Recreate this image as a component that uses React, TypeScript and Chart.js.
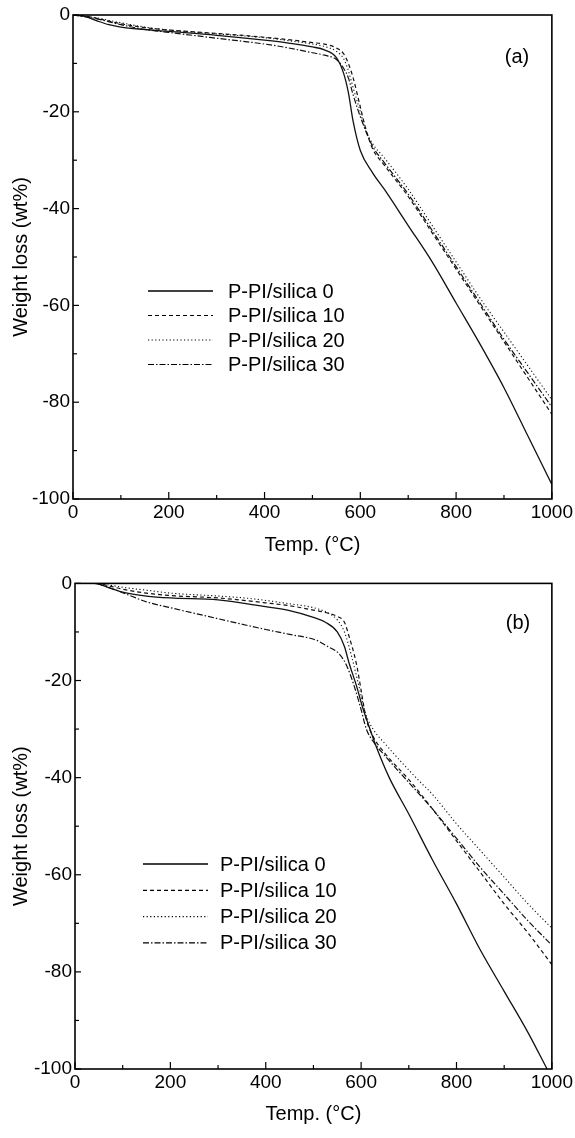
import React, { useEffect, useRef } from "react";
import { Chart, registerables } from "chart.js";
Chart.register(...registerables);

const seriesLabels = ["P-PI/silica 0", "P-PI/silica 10", "P-PI/silica 20", "P-PI/silica 30"];
const xTickValues = [0, 200, 400, 600, 800, 1000];
const yTickValues = [0, -20, -40, -60, -80, -100];
const xTitle = "Temp. (°C)";
const yTitle = "Weight loss (wt%)";
const panelNames = ["(a)", "(b)"];

// ---- Panel (a) ----
const a0Temp = [0, 25, 50, 75, 100, 150, 200, 300, 400, 450, 500, 525, 550, 565, 575, 585, 600, 625, 650, 700, 750, 800, 850, 900, 950, 1000];
const a0Loss = [0, -0.3, -1.2, -2.0, -2.5, -3.0, -3.4, -4.2, -5.2, -5.8, -6.6, -7.2, -8.8, -12, -16, -22, -28, -32.5, -36, -43.5, -51, -59.5, -68, -77, -87, -97];
const a10Temp = [0, 25, 50, 100, 150, 200, 300, 400, 450, 500, 525, 550, 565, 575, 585, 600, 610, 625, 650, 700, 750, 800, 850, 900, 950, 1000];
const a10Loss = [0, -0.2, -0.7, -1.8, -2.6, -3.1, -3.8, -4.6, -5.1, -5.7, -6.0, -6.8, -8, -10, -13, -19, -23, -27.5, -31, -37.5, -45, -52.5, -60, -67.5, -75, -82.5];
const a20Temp = [0, 50, 100, 150, 200, 300, 400, 450, 500, 525, 550, 565, 575, 585, 600, 610, 625, 650, 700, 750, 800, 850, 900, 950, 1000];
const a20Loss = [0, -0.6, -1.6, -2.5, -3.1, -3.9, -4.7, -5.3, -6.0, -6.5, -7.5, -9, -11.5, -15, -20, -23.5, -26.5, -29.5, -36, -43.5, -51, -58.5, -65.5, -72.5, -79.5];
const a30Temp = [0, 50, 100, 150, 200, 300, 400, 450, 500, 525, 550, 565, 575, 585, 600, 625, 650, 700, 750, 800, 850, 900, 950, 1000];
const a30Loss = [0, -0.8, -2.0, -3.0, -3.6, -4.8, -6.0, -6.8, -7.8, -8.3, -9.2, -11, -13, -16.5, -21, -27, -30.5, -37, -44.5, -52, -59.5, -67, -74, -81];

// ---- Panel (b) ----
const b0Temp = [0, 40, 75, 100, 150, 200, 300, 400, 450, 500, 525, 550, 565, 575, 590, 603, 615, 632, 659, 700, 750, 800, 850, 900, 950, 990];
const b0Loss = [0, 0, -1.0, -1.8, -2.6, -3.0, -3.4, -4.8, -5.6, -7.0, -8.0, -10, -13, -16.5, -21, -25.5, -29, -33.7, -40, -47.5, -57, -66, -75.5, -84, -92.5, -100];
const b10Temp = [0, 40, 75, 100, 150, 200, 300, 400, 450, 500, 525, 550, 565, 575, 590, 600, 611, 625, 650, 701, 750, 800, 850, 900, 950, 1000];
const b10Loss = [0, 0, -0.6, -1.2, -2.0, -2.5, -3.0, -4.0, -4.6, -5.5, -6.0, -6.8, -8, -11, -16.5, -22, -28, -31.5, -35, -40.5, -46.5, -53, -59.5, -66, -72, -78.5];
const b20Temp = [0, 40, 75, 100, 150, 200, 300, 366, 450, 500, 533, 550, 565, 580, 595, 610, 625, 650, 715, 750, 800, 850, 900, 950, 1000];
const b20Loss = [0, 0, -0.4, -0.8, -1.4, -2.0, -2.6, -3.1, -4.2, -5.0, -6.2, -7.5, -10, -15, -21, -27, -30, -33, -40, -43.5, -49.5, -55, -60.5, -66, -71];
const b30Temp = [0, 40, 75, 115, 150, 200, 297, 400, 450, 506, 530, 554, 570, 585, 600, 611, 625, 650, 700, 750, 800, 850, 900, 950, 1000];
const b30Loss = [0, 0, -1.0, -2.5, -3.8, -5.0, -7.2, -9.5, -10.5, -11.7, -13, -14.5, -17, -21, -26, -30, -32.5, -35.5, -41, -46.5, -52.5, -58.5, -64, -69.5, -74.5];

const panelA = [[a0Temp, a0Loss], [a10Temp, a10Loss], [a20Temp, a20Loss], [a30Temp, a30Loss]];
const panelB = [[b0Temp, b0Loss], [b10Temp, b10Loss], [b20Temp, b20Loss], [b30Temp, b30Loss]];

const DASHES = [[], [4, 3], [1.2, 2.4], [6, 2, 1.5, 2]];
const WIDTHS = [1.3, 1.2, 1.1, 1.2];
const FONT = "'Liberation Sans', Arial, sans-serif";
const TICK_SIZE = 19;
const TEXT_SIZE = 20;

type Layout = {
  left: number; right: number; top: number; bottom: number;
  legendX0: number; legendX1: number; legendTextX: number; legendY: number; legendStep: number;
  labelX: number; labelY: number;
};

function makePlugin(panelLabel: string, L: Layout) {
  return {
    id: "decor",
    afterDraw(chart: any) {
      const { ctx, chartArea, scales } = chart;
      const { left, right, top, bottom } = chartArea;
      const xs = scales.x, ys = scales.y;
      ctx.save();
      ctx.strokeStyle = "#000";
      ctx.lineWidth = 1.6;
      ctx.setLineDash([]);
      ctx.strokeRect(left, top, right - left, bottom - top);
      ctx.lineWidth = 1.2;
      for (let v = -100; v <= 0; v += 10) {
        const py = ys.getPixelForValue(v);
        const len = v % 20 === 0 ? 6 : 4;
        ctx.beginPath(); ctx.moveTo(left, py); ctx.lineTo(left + len, py); ctx.stroke();
      }
      for (let v = 0; v <= 1000; v += 100) {
        const px = xs.getPixelForValue(v);
        const len = v % 200 === 0 ? 7 : 4;
        ctx.beginPath(); ctx.moveTo(px, bottom); ctx.lineTo(px, bottom - len); ctx.stroke();
      }
      // legend
      ctx.font = `${TEXT_SIZE}px ${FONT}`;
      ctx.fillStyle = "#000";
      ctx.textBaseline = "middle";
      ctx.textAlign = "left";
      seriesLabels.forEach((lab, i) => {
        const y = L.legendY + i * L.legendStep;
        ctx.lineWidth = WIDTHS[i];
        ctx.setLineDash(DASHES[i]);
        ctx.beginPath(); ctx.moveTo(L.legendX0, y); ctx.lineTo(L.legendX1, y); ctx.stroke();
        ctx.setLineDash([]);
        ctx.fillText(lab, L.legendTextX, y + 1);
      });
      ctx.textAlign = "center";
      ctx.fillText(panelLabel, L.labelX, L.labelY);
      ctx.restore();
    },
  };
}

function Panel({ data, label, L }: { data: number[][][]; label: string; L: Layout }) {
  const ref = useRef<HTMLCanvasElement>(null);
  useEffect(() => {
    if (!ref.current) return;
    const datasets = data.map(([t, w], i) => ({
      label: seriesLabels[i],
      data: t.map((tv, j) => ({ x: tv, y: w[j] })),
      showLine: true,
      borderColor: "#111",
      borderWidth: WIDTHS[i],
      borderDash: DASHES[i],
      pointRadius: 0,
      fill: false,
      cubicInterpolationMode: "monotone" as const,
    }));
    const tickFont = { family: FONT, size: TICK_SIZE };
    const titleFont = { family: FONT, size: TEXT_SIZE };
    const padBottom = 12;
    const padLeft = 9;
    const chart = new Chart(ref.current, {
      type: "scatter",
      data: { datasets },
      options: {
        animation: false,
        responsive: false,
        layout: { padding: { left: padLeft, right: 575 - L.right, top: L.top, bottom: padBottom } },
        plugins: { legend: { display: false }, tooltip: { enabled: false } },
        scales: {
          x: {
            type: "linear", min: 0, max: 1000,
            afterBuildTicks: (s: any) => { s.ticks = xTickValues.map((v) => ({ value: v })); },
            ticks: { font: tickFont, color: "#000", padding: 2, maxRotation: 0, callback: (v: any) => String(v) },
            grid: { display: false, drawTicks: false },
            border: { display: false },
            title: { display: true, text: xTitle, font: titleFont, color: "#000", padding: { top: 8, bottom: 0 } },
            afterFit: (s: any) => { s.height = 569 - padBottom - L.bottom; },
          },
          y: {
            type: "linear", min: -100, max: 0,
            afterBuildTicks: (s: any) => { s.ticks = yTickValues.map((v) => ({ value: v })); },
            ticks: { font: tickFont, color: "#000", padding: 3, callback: (v: any) => String(v) },
            grid: { display: false, drawTicks: false },
            border: { display: false },
            title: { display: true, text: yTitle, font: titleFont, color: "#000", padding: 0 },
            afterFit: (s: any) => { s.width = L.left - padLeft; },
          },
        },
      },
      plugins: [makePlugin(label, L)],
    });
    return () => chart.destroy();
  }, []);
  return <canvas ref={ref} width={575} height={569} style={{ display: "block", width: 575, height: 569 }} />;
}

const layoutA: Layout = { left: 73, right: 553, top: 15, bottom: 499, legendX0: 148, legendX1: 213, legendTextX: 228, legendY: 291, legendStep: 24.5, labelX: 517, labelY: 57 };
const layoutB: Layout = { left: 75, right: 553, top: 14, bottom: 500, legendX0: 143, legendX1: 208, legendTextX: 220, legendY: 295, legendStep: 26.3, labelX: 518, labelY: 54 };

export default function App() {
  return (
    <div style={{ position: "absolute", left: 0, top: 0, width: 575, height: 1138, background: "#fff" }}>
      <Panel data={panelA} label={panelNames[0]} L={layoutA} />
      <Panel data={panelB} label={panelNames[1]} L={layoutB} />
    </div>
  );
}
